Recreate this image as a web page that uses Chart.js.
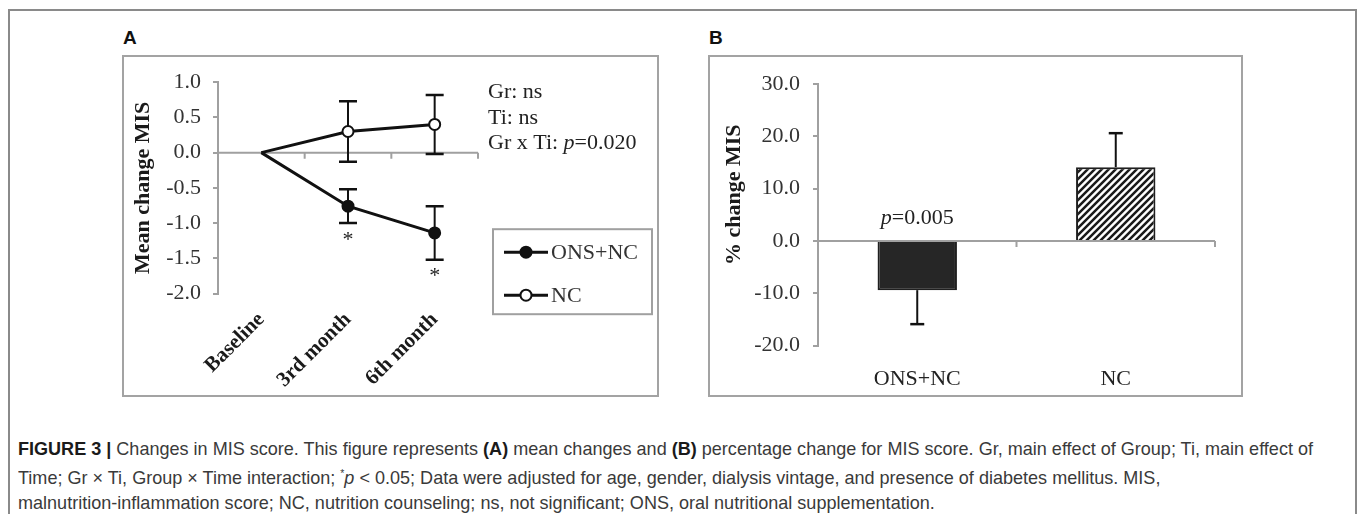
<!DOCTYPE html>
<html>
<head>
<meta charset="utf-8">
<title>Changes in MIS score</title>
<script src="https://cdn.jsdelivr.net/npm/chart.js@4.4.0/dist/chart.umd.min.js"></script>
<style>
    body { margin: 0; width: 1357px; height: 514px; overflow: hidden; background: #fff; position: relative; }
    #frame { position: absolute; left: 8px; top: 9px; width: 1345px; height: 520px; border: 2px solid #8a8a8a; }
    .panel { position: absolute; top: 55px; height: 338px; border: 2px solid #a3a3a3; }
    #panelA { left: 122px; width: 533px; }
    #panelB { left: 708px; width: 531px; }
    .panel canvas { position: absolute; left: 0; top: 0; }
    .tag { position: absolute; top: 27px; font: bold 19px 'Liberation Sans', Arial, sans-serif; color: #111; }
    #caption { position: absolute; left: 18px; top: 436px; font-family: 'Liberation Sans Narrow', 'Arial Narrow', 'Liberation Sans', sans-serif;
               font-size: 19px; line-height: 25px; color: #3a3a3a; white-space: nowrap; transform-origin: 0 0; }
    #caption b { color: #1a1a1a; }
</style>
</head>
<body>
<div id="frame"></div>
<div class="tag" style="left:123px">A</div>
<div class="tag" style="left:709px">B</div>
<div class="panel" id="panelA"><canvas id="chartA" width="533" height="338"></canvas></div>
<div class="panel" id="panelB"><canvas id="chartB" width="531" height="338"></canvas></div>
<div id="caption">
    <div id="cap1"><b>FIGURE 3 |</b> Changes in MIS score. This figure represents <b>(A)</b> mean changes and <b>(B)</b> percentage change for MIS score. Gr, main effect of Group; Ti, main effect of</div>
    <div>Time; Gr × Ti, Group × Time interaction; <sup style="font-size:11px">*</sup><i>p</i> &lt; 0.05; Data were adjusted for age, gender, dialysis vintage, and presence of diabetes mellitus. MIS,</div>
    <div>malnutrition-inflammation score; NC, nutrition counseling; ns, not significant; ONS, oral nutritional supplementation.</div>
</div>

<script>
// Panel A data: mean change in MIS over time
const timeLabels = ['Baseline', '3rd month', '6th month'];
const onsNcMean = [0, -0.76, -1.14];
const onsNcErr = [0, 0.24, 0.38];
const ncMean = [0, 0.30, 0.40];
const ncErr = [0, 0.43, 0.42];
const meanTicks = [-2.0, -1.5, -1.0, -0.5, 0.0, 0.5, 1.0];

// Panel B data: % change in MIS by group
const groupLabels = ['ONS+NC', 'NC'];
const pctChange = [-9.4, 14.1];
const pctErr = [6.5, 6.5];
const pctTicks = [-20, -10, 0, 10, 20, 30];

const serif = "'Liberation Serif', 'Times New Roman', serif";
Chart.defaults.font.family = serif;
Chart.defaults.color = '#333';

const axisGray = '#a0a0a0';

// Zero line with category tick marks hanging below it
const zeroAxis = {
    id: 'zeroAxis',
    beforeDatasetsDraw(chart) {
        const { ctx, chartArea } = chart;
        const x = chart.scales.x, y = chart.scales.y;
        const y0 = y.getPixelForValue(0);
        const step = x.getPixelForValue(1) - x.getPixelForValue(0);
        ctx.save();
        ctx.strokeStyle = axisGray;
        ctx.lineWidth = 2;
        ctx.beginPath();
        ctx.moveTo(chartArea.left, y0);
        ctx.lineTo(chartArea.right, y0);
        for (let i = 0; i <= x.ticks.length; i++) {
            const px = x.getPixelForValue(i) - step / 2;
            ctx.moveTo(px, y0);
            ctx.lineTo(px, y0 + 6);
        }
        ctx.stroke();
        ctx.restore();
    }
};

function drawCap(ctx, x, y, half) {
    ctx.moveTo(x - half, y);
    ctx.lineTo(x + half, y);
}

// Error bars (two-sided for lines, one-sided for bars)
const errorBars = {
    id: 'errorBars',
    beforeDatasetsDraw(chart) {
        const ctx = chart.ctx, y = chart.scales.y;
        chart.data.datasets.forEach((ds, i) => {
            if (!ds.errors) return;
            const meta = chart.getDatasetMeta(i);
            meta.data.forEach((el, j) => {
                const e = ds.errors[j];
                if (!e) return;
                const v = ds.data[j];
                let hi = v + e, lo = v - e;
                if (ds.oneSided) {
                    if (v >= 0) lo = v; else hi = v;
                }
                const yHi = y.getPixelForValue(hi), yLo = y.getPixelForValue(lo);
                ctx.save();
                ctx.strokeStyle = '#111';
                ctx.lineWidth = 2;
                ctx.beginPath();
                ctx.moveTo(el.x, yHi);
                ctx.lineTo(el.x, yLo);
                ctx.stroke();
                ctx.lineWidth = 2.5;
                ctx.beginPath();
                if (!ds.oneSided || v >= 0) drawCap(ctx, el.x, yHi, ds.capHalf);
                if (!ds.oneSided || v < 0) drawCap(ctx, el.x, yLo, ds.capHalf);
                ctx.stroke();
                ctx.restore();
            });
        });
    }
};

// Text with an italic "p"
function pText(ctx, before, after, x, y, size, align) {
    const reg = size + 'px ' + serif, ita = 'italic ' + size + 'px ' + serif;
    ctx.font = reg; const w1 = ctx.measureText(before).width; const w3 = ctx.measureText(after).width;
    ctx.font = ita; const w2 = ctx.measureText('p').width;
    let sx = align === 'center' ? x - (w1 + w2 + w3) / 2 : x;
    ctx.textAlign = 'left';
    ctx.font = reg; ctx.fillText(before, sx, y);
    ctx.font = ita; ctx.fillText('p', sx + w1, y);
    ctx.font = reg; ctx.fillText(after, sx + w1 + w2, y);
}

// Panel A notes, asterisks and legend box
const notesA = {
    id: 'notesA',
    afterDraw(chart) {
        const { ctx, chartArea } = chart;
        const x = chart.scales.x, y = chart.scales.y;
        ctx.save();
        ctx.fillStyle = '#222';
        ctx.textBaseline = 'middle';
        ctx.font = '22px ' + serif;
        const tx = chartArea.right + 10;
        ctx.fillText('Gr: ns', tx, chartArea.top + 10);
        ctx.fillText('Ti: ns', tx, chartArea.top + 36);
        pText(ctx, 'Gr x Ti: ', '=0.020', tx, chartArea.top + 61, 22, 'left');

        // significance stars under the ONS+NC error bars
        ctx.font = '22px ' + serif;
        ctx.textAlign = 'center';
        ctx.textBaseline = 'top';
        for (let j = 1; j < onsNcMean.length; j++) {
            const py = y.getPixelForValue(onsNcMean[j] - onsNcErr[j]);
            ctx.fillText('*', x.getPixelForValue(j), py + 6);
        }

        // legend
        const bx = chartArea.right + 15, by = chartArea.top + 147;
        ctx.strokeStyle = axisGray;
        ctx.lineWidth = 2;
        ctx.strokeRect(bx, by, 159, 85);
        const rows = [
            { label: 'ONS+NC', fill: '#111', dy: 23 },
            { label: 'NC', fill: '#fff', dy: 66 }
        ];
        ctx.textAlign = 'left';
        ctx.textBaseline = 'middle';
        rows.forEach(r => {
            const ly = by + r.dy;
            ctx.strokeStyle = '#111';
            ctx.lineWidth = 3;
            ctx.beginPath();
            ctx.moveTo(bx + 11, ly);
            ctx.lineTo(bx + 55, ly);
            ctx.stroke();
            ctx.beginPath();
            ctx.arc(bx + 33, ly, 5.5, 0, Math.PI * 2);
            ctx.fillStyle = r.fill;
            ctx.fill();
            ctx.lineWidth = 2;
            ctx.stroke();
            ctx.fillStyle = '#333';
            ctx.font = '22px ' + serif;
            ctx.fillText(r.label, bx + 58, ly + 1);
        });
        ctx.restore();
    }
};

new Chart(document.getElementById('chartA'), {
    type: 'line',
    data: {
        labels: timeLabels,
        datasets: [{
            label: 'ONS+NC',
            data: onsNcMean,
            errors: onsNcErr,
            capHalf: 9,
            borderColor: '#111',
            borderWidth: 3,
            pointRadius: [0, 5.5, 5.5],
            pointBackgroundColor: '#111',
            pointBorderColor: '#111',
            pointBorderWidth: 2
        }, {
            label: 'NC',
            data: ncMean,
            errors: ncErr,
            capHalf: 9,
            borderColor: '#111',
            borderWidth: 3,
            pointRadius: [0, 5.5, 5.5],
            pointBackgroundColor: '#fff',
            pointBorderColor: '#111',
            pointBorderWidth: 2
        }]
    },
    options: {
        responsive: false,
        animation: false,
        layout: { padding: { top: 15, right: 179, left: 0, bottom: 0 } },
        plugins: { legend: { display: false }, tooltip: { enabled: false } },
        scales: {
            x: {
                offset: true,
                grid: { display: false, drawTicks: false },
                border: { display: false },
                ticks: {
                    minRotation: 45, maxRotation: 45, padding: 14,
                    color: '#1a1a1a',
                    font: { size: 21, weight: 'bold' }
                },
                afterFit(scale) { scale.height = 101.5; }
            },
            y: {
                min: meanTicks[0],
                max: meanTicks[meanTicks.length - 1],
                border: { color: axisGray, width: 2 },
                grid: { drawOnChartArea: false, color: axisGray, lineWidth: 2, tickLength: 5 },
                ticks: {
                    stepSize: meanTicks[1] - meanTicks[0],
                    padding: 12,
                    font: { size: 22 },
                    callback: v => v.toFixed(1)
                },
                title: {
                    display: true, text: 'Mean change MIS', color: '#1a1a1a',
                    font: { size: 22, weight: 'bold' }, padding: { top: 6, bottom: 0 }
                },
                afterFit(scale) { scale.width = 94; }
            }
        }
    },
    plugins: [zeroAxis, errorBars, notesA]
});

// Diagonal hatch for the NC bar
function hatchPattern() {
    const c = document.createElement('canvas');
    c.width = 7; c.height = 7;
    const g = c.getContext('2d');
    g.fillStyle = '#fff';
    g.fillRect(0, 0, 7, 7);
    g.strokeStyle = '#1a1a1a';
    g.lineWidth = 2.5;
    g.beginPath();
    g.moveTo(-1, 8); g.lineTo(8, -1);
    g.moveTo(-1, 1); g.lineTo(1, -1);
    g.moveTo(6, 8); g.lineTo(8, 6);
    g.stroke();
    return g.createPattern(c, 'repeat');
}

const notesB = {
    id: 'notesB',
    afterDraw(chart) {
        const ctx = chart.ctx, x = chart.scales.x, y = chart.scales.y;
        ctx.save();
        ctx.fillStyle = '#222';
        ctx.textBaseline = 'middle';
        pText(ctx, '', '=0.005', x.getPixelForValue(0), y.getPixelForValue(0) - 23, 22, 'center');

        // y title sits a little above the middle of the axis in the original
        const mid = (y.top + y.bottom) / 2 - 20;
        ctx.translate(24, mid);
        ctx.rotate(-Math.PI / 2);
        ctx.textAlign = 'center';
        ctx.fillStyle = '#1a1a1a';
        ctx.font = 'bold 22px ' + serif;
        ctx.fillText('% change MIS', 0, 0);
        ctx.restore();
    }
};

new Chart(document.getElementById('chartB'), {
    type: 'bar',
    data: {
        labels: groupLabels,
        datasets: [{
            data: pctChange,
            errors: pctErr,
            oneSided: true,
            capHalf: 7,
            backgroundColor: ['#262626', hatchPattern()],
            borderColor: '#1f1f1f',
            borderWidth: 2,
            barPercentage: 0.4,
            categoryPercentage: 1
        }]
    },
    options: {
        responsive: false,
        animation: false,
        layout: { padding: { top: 27, right: 26, left: 0, bottom: 0 } },
        plugins: { legend: { display: false }, tooltip: { enabled: false } },
        scales: {
            x: {
                grid: { display: false, drawTicks: false },
                border: { display: false },
                ticks: { padding: 20, font: { size: 22 }, color: '#222' },
                afterFit(scale) { scale.height = 49.4; }
            },
            y: {
                min: pctTicks[0],
                max: pctTicks[pctTicks.length - 1],
                border: { color: axisGray, width: 2 },
                grid: { drawOnChartArea: false, color: axisGray, lineWidth: 2, tickLength: 5 },
                ticks: {
                    stepSize: pctTicks[1] - pctTicks[0],
                    padding: 13,
                    font: { size: 22 },
                    callback: v => v.toFixed(1)
                },
                afterFit(scale) { scale.width = 108; }
            }
        }
    },
    plugins: [zeroAxis, errorBars, notesB]
});

// Fit the caption to the width of the printed caption
document.fonts.ready.then(function() {
    const cap = document.getElementById('caption');
    const w = document.getElementById('cap1').getBoundingClientRect().width;
    cap.style.transform = 'scaleX(' + (1295 / w) + ')';
});
</script>
</body>
</html>
